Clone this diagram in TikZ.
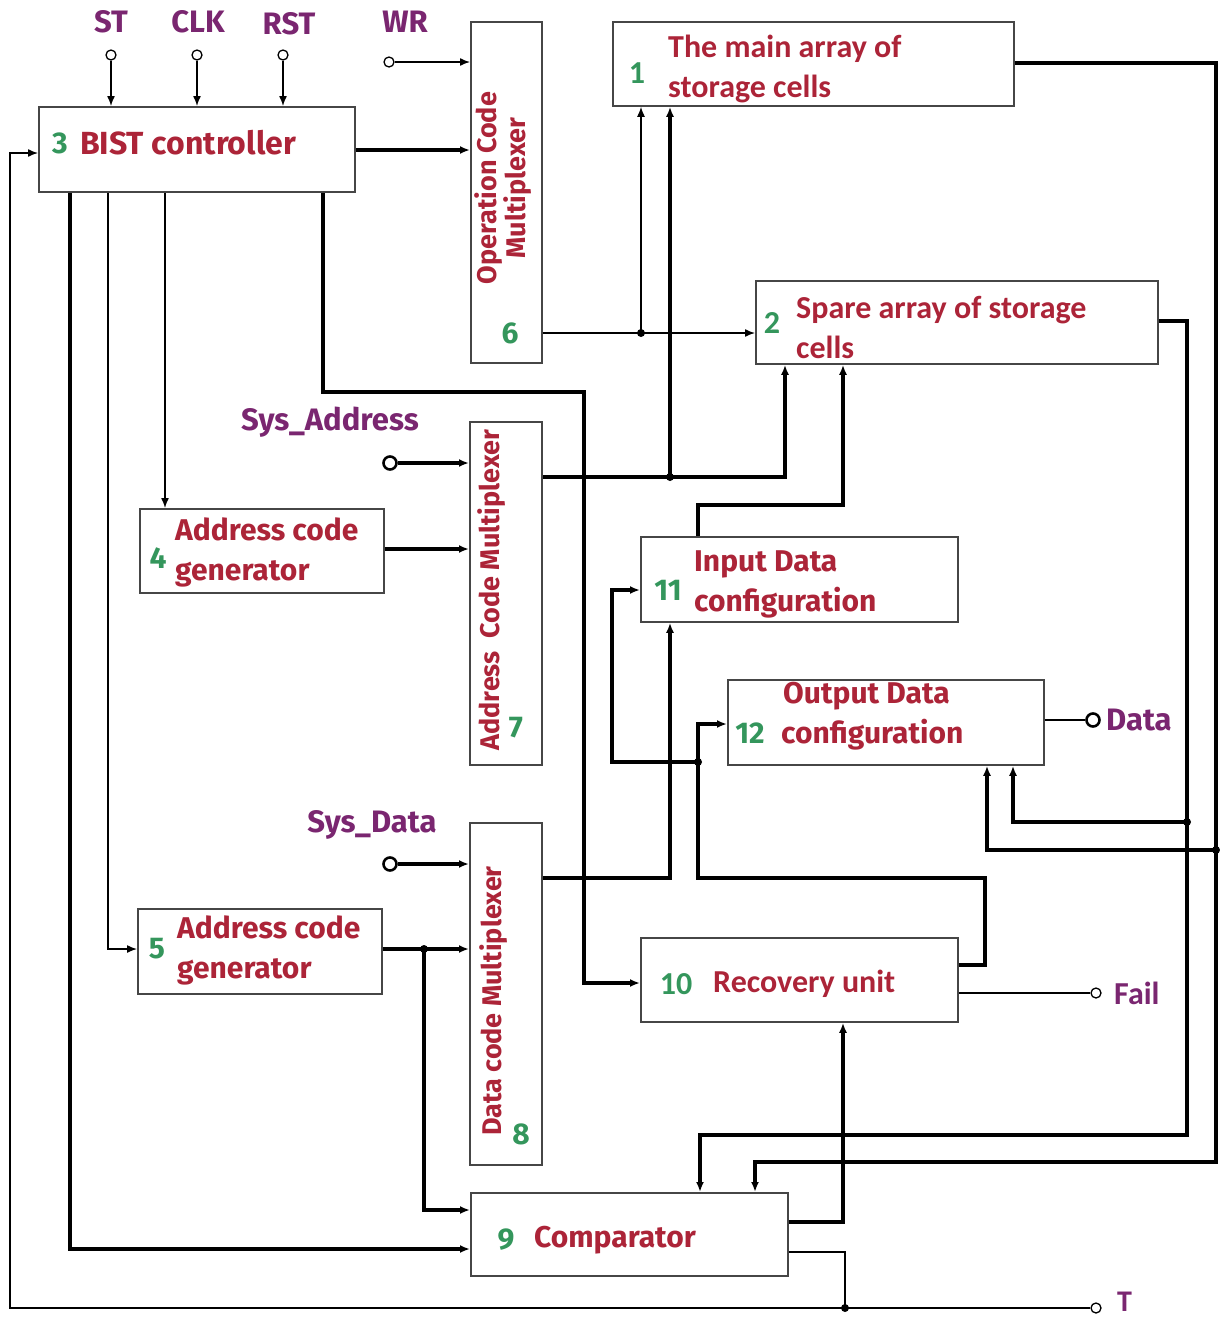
\documentclass[tikz,border=0pt]{standalone}
\usepackage{fontspec}
\setmainfont{Fira Sans}
\newfontfamily\fa{Carlito}
\usetikzlibrary{arrows.meta}
\definecolor{tred}{RGB}{172,36,56}
\definecolor{tgreen}{RGB}{52,150,92}
\definecolor{tpurple}{RGB}{122,38,112}
\definecolor{boxgray}{RGB}{70,70,70}
\begin{document}
\begin{tikzpicture}[x=1pt,y=-1pt,
  blk/.style={draw=boxgray, line width=1.8pt, fill=white, anchor=north west, inner sep=0pt},
  wire/.style={line width=1.4pt, black},
  bus/.style={line width=3.2pt, black},
  arr/.style={-{Latex[length=10pt,width=8pt]}},
  term/.style={circle, draw, line width=1.3pt, minimum size=10pt, inner sep=0pt, fill=white},
  bterm/.style={circle, draw, line width=2.6pt, minimum size=13pt, inner sep=0pt, fill=white},
  txb/.style={font=\bfseries\fontsize{30}{40}\selectfont, text=tred, inner sep=0pt, align=left, anchor=west},
  txa/.style={font=\fa\bfseries\fontsize{32}{40}\selectfont, text=tred, inner sep=0pt, align=left, anchor=west},
  txm/.style={font=\bfseries\fontsize{27}{29}\selectfont, text=tred, inner sep=0pt, align=center, rotate=90},
  numb/.style={font=\bfseries\fontsize{30}{36}\selectfont, text=tgreen, inner sep=0pt},
  numa/.style={font=\fa\bfseries\fontsize{32}{36}\selectfont, text=tgreen, inner sep=0pt},
  lbl/.style={font=\bfseries\fontsize{31}{36}\selectfont, text=tpurple, inner sep=0pt},
  lbla/.style={font=\fa\bfseries\fontsize{32}{36}\selectfont, text=tpurple, inner sep=0pt},
  dot/.style={circle, fill=black, inner sep=0pt, minimum size=8pt}]
\useasboundingbox (0,0) rectangle (1219,1318);
\fill[white] (0,0) rectangle (1219,1318);

% boxes
\node[blk, minimum width=316pt, minimum height=85pt] (b3) at (38,106) {};
\node[blk, minimum width=71pt, minimum height=341pt] (b6) at (470,21) {};
\node[blk, minimum width=401pt, minimum height=84pt] (b1) at (612,21) {};
\node[blk, minimum width=402pt, minimum height=83pt] (b2) at (755,280) {};
\node[blk, minimum width=72pt, minimum height=343pt] (b7) at (469,421) {};
\node[blk, minimum width=244pt, minimum height=84pt] (b4) at (139,508) {};
\node[blk, minimum width=317pt, minimum height=85pt] (b11) at (640,536) {};
\node[blk, minimum width=316pt, minimum height=85pt] (b12) at (727,679) {};
\node[blk, minimum width=72pt, minimum height=342pt] (b8) at (469,822) {};
\node[blk, minimum width=244pt, minimum height=85pt] (b5) at (137,908) {};
\node[blk, minimum width=317pt, minimum height=84pt] (b10) at (640,937) {};
\node[blk, minimum width=317pt, minimum height=83pt] (b9) at (470,1192) {};

% box texts
\node[numb] (n3) at (60,143) {3};
\node[txb, font=\bfseries\fontsize{32}{40}\selectfont] (t3) at (80,143) {BIST controller};
\node[numa] (n1) at (637,73) {1};
\node[txa] (t1) at (668,69) {The main array of\\storage cells};
\node[numa] (n2) at (772,323) {2};
\node[txa] (t2) at (796,327) {Spare array of storage\\cells};
\node[numb] (n4) at (158,558) {4};
\node[txb] (t4) at (175,552) {Address code\\generator};
\node[numb] (n5) at (157,949) {5};
\node[txb] (t5) at (177,950) {Address code\\generator};
\node[numb] (n11) at (668,590) {11};
\node[txb] (t11) at (694,584) {Input Data\\configuration};
\node[numb] (n12) at (750,733) {12};
\node[txb] (t12) at (781,716) {\hspace*{2pt}Output Data\\configuration};
\node[numa] (n10) at (676,984) {10};
\node[txa] (t10) at (713,984) {Recovery unit};
\node[numb] (n9) at (506,1240) {9};
\node[txb] (t9) at (534,1240) {Comparator};
\node[txm] (t6) at (503,188) {Operation Code\\Multiplexer};
\node[numb] (n6) at (510,333) {6};
\node[txm] (t7) at (492,590) {Address\ \ Code Multiplexer};
\node[numb] (n7) at (516,728) {7};
\node[txm] (t8) at (494,1001) {Data code Multiplexer};
\node[numb] (n8) at (521,1134) {8};

% terminals and labels
\node[term] (st) at (111,55) {};
\node[term] (clk) at (197,55) {};
\node[term] (rst) at (283,55) {};
\node[term] (wr) at (389,62) {};
\node[bterm] (sysa) at (390,463) {};
\node[bterm] (sysd) at (390,864) {};
\node[bterm] (data) at (1093,720) {};
\node[term] (fail) at (1096,993) {};
\node[term] (tt) at (1096,1308) {};
\node[lbl] (lst) at (111,22) {ST};
\node[lbl] (lclk) at (198,22) {CLK};
\node[lbl] (lrst) at (289,24) {RST};
\node[lbl] (lwr) at (405,22) {WR};
\node[lbl] (lsysa) at (330,422) {Sys\_Address};
\node[lbl] (lsysd) at (372,825) {Sys\_Data};
\node[lbl, anchor=west] (ldata) at (1106,720) {Data};
\node[lbla, anchor=west] (lfail) at (1114,993) {Fail};
\node[lbla, anchor=west, font=\fa\bfseries\fontsize{30}{34}\selectfont] (lt) at (1117,1302) {T};

% junctions
\coordinate (j1) at (641,333);
\coordinate (ja) at (670,477);
\coordinate (jr) at (698,762);
\coordinate (j5) at (424,949);
\coordinate (jt) at (845,1308);
\coordinate (k1) at (1216,850);
\coordinate (k2) at (1187,822);

% connectors
\draw[wire,arr] (st) -- (st |- b3.north);
\draw[wire,arr] (clk) -- (clk |- b3.north);
\draw[wire,arr] (rst) -- (rst |- b3.north);
\draw[wire,arr] (wr) -- (wr -| b6.west);
\draw[bus,arr] (b3.east |- 0,150) -- (b6.west |- 0,150);
\draw[wire,arr] (b6.east |- 0,333) -- (b2.west |- 0,333);
\draw[wire,arr] (j1) -- (j1 |- b1.south);
\draw[bus,arr] (b7.east |- 0,477) -- (785,477) -- (b2.south -| 785,0);
\draw[bus,arr] (ja) -- (ja |- b1.south);
\draw[bus,arr] (b3.south -| 323,0) -- (323,392) -- (584,392) -- (584,983) -- (b10.west |- 0,983);
\draw[bus,arr] (sysa) -- (sysa -| b7.west);
\draw[bus,arr] (b4.east |- 0,549) -- (b7.west |- 0,549);
\draw[wire,arr] (b3.south -| 165,0) -- (b4.north -| 165,0);
\draw[bus,arr] (b11.north -| 698,0) -- (698,505) -- (843,505) -- (b2.south -| 843,0);
\draw[bus,arr] (b8.east |- 0,878) -- (670,878) -- (b11.south -| 670,0);
\draw[bus] (b10.east |- 0,965) -- (985,965) -- (985,878) -- (698,878) -- (jr);
\draw[bus,arr] (jr) -- (698,724) -- (b12.west |- 0,724);
\draw[bus,arr] (jr) -- (612,762) -- (612,590) -- (b11.west |- 0,590);
\draw[bus,arr] (sysd) -- (sysd -| b8.west);
\draw[wire,arr] (b3.south -| 108,0) -- (108,949) -- (b5.west |- 0,949);
\draw[bus,arr] (b5.east |- 0,949) -- (b8.west |- 0,949);
\draw[bus,arr] (j5) -- (424,1210) -- (b9.west |- 0,1210);
\draw[bus,arr] (b3.south -| 70,0) -- (70,1249) -- (b9.west |- 0,1249);
\draw[bus,arr] (b9.east |- 0,1222) -- (843,1222) -- (b10.south -| 843,0);
\draw[wire] (b9.east |- 0,1252) -- (845,1252) -- (jt);
\draw[wire,arr] (tt) -- (10,1308) -- (10,153) -- (b3.west |- 0,153);
\draw[wire] (b10.east |- 0,993) -- (fail);
\draw[line width=2pt] (b12.east |- 0,720) -- (data);
\draw[bus,arr] (b1.east |- 0,63) -- (1216,63) -- (1216,1162) -- (755,1162) -- (b9.north -| 755,0);
\draw[bus,arr] (k1) -- (987,850) -- (b12.south -| 987,0);
\draw[bus,arr] (b2.east |- 0,321) -- (1187,321) -- (1187,1135) -- (700,1135) -- (b9.north -| 700,0);
\draw[bus,arr] (k2) -- (1013,822) -- (b12.south -| 1013,0);

% dots
\node[dot] (d1) at (j1) {};
\node[dot] (d2) at (ja) {};
\node[dot] (d3) at (jr) {};
\node[dot] (d4) at (j5) {};
\node[dot] (d5) at (jt) {};
\node[dot] (d6) at (k1) {};
\node[dot] (d7) at (k2) {};
\end{tikzpicture}
\end{document}
